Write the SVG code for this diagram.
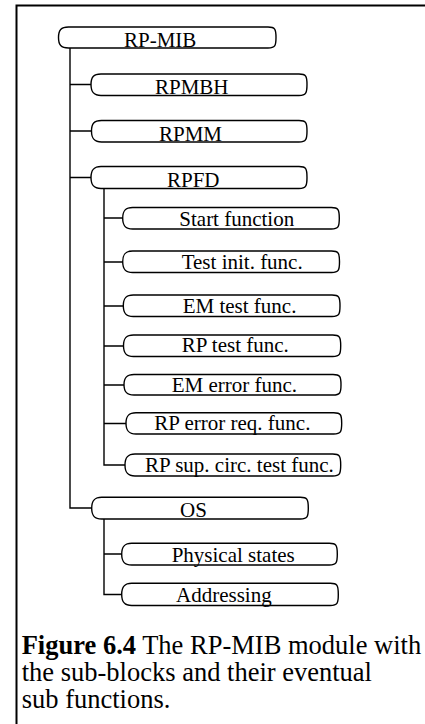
<svg xmlns="http://www.w3.org/2000/svg" width="425" height="724" viewBox="0 0 425 724">
  <style>
    .box { fill: #fff; stroke: #000; stroke-width: 1.4; }
    .lbl { font-size: 21px; fill: #000; }
    .wire { fill: none; stroke: #000; stroke-width: 1.4; }
    .frame { fill: none; stroke: #000; stroke-width: 2; }
    .cap { font-size: 26.5px; fill: #000; }
  </style>

  <!-- page frame (open at right and bottom) -->
  <path class="frame" d="M16.5,724 V5.5 H425"/>

  <!-- connectors -->
  <g id="connectors">
    <path class="wire" d="M70,48 V508 H92"/>
    <path class="wire" d="M70,84.5 H91 M70,131 H91.5 M70,177.5 H91"/>
    <path class="wire" d="M104,188.5 V465 H125"/>
    <path class="wire" d="M104,218 H122.7 M104,262 H122.7 M104,306 H123.3 M104,346 H123.5 M104,385 H124 M104,423.5 H126"/>
    <path class="wire" d="M104,519 V594.5 H121.7 M104,554 H121.7"/>
  </g>

  <!-- nodes: pill boxes with bracket-like ends -->
  <g font-family="Liberation Serif, DejaVu Serif, serif">
  <g id="rp-mib">
    <path class="box" d="M68.5,27 H268 C275,27 276,29 276,37.5 C276,46 275,48 268,48 H68.5 C61,48 58.5,45 58.5,37.5 C58.5,30 61,27 68.5,27 Z"/>
    <text class="lbl" x="124" y="46.5">RP-MIB</text>
  </g>
  <g id="rpmbh">
    <path class="box" d="M101,74 H299 C306,74 307,76 307,84.5 C307,93 306,95.5 299,95.5 H101 C93.5,95.5 91,92 91,84.5 C91,77 93.5,74 101,74 Z"/>
    <text class="lbl" x="155" y="94">RPMBH</text>
  </g>
  <g id="rpmm">
    <path class="box" d="M101.5,120.5 H299 C306,120.5 307,122.5 307,131 C307,139.5 306,142 299,142 H101.5 C94,142 91.5,138.5 91.5,131 C91.5,123.5 94,120.5 101.5,120.5 Z"/>
    <text class="lbl" x="159" y="140.5">RPMM</text>
  </g>
  <g id="rpfd">
    <path class="box" d="M101,166.5 H299 C306,166.5 307,168.5 307,177.5 C307,186 306,188.5 299,188.5 H101 C93.5,188.5 91,185 91,177.5 C91,170 93.5,166.5 101,166.5 Z"/>
    <text class="lbl" x="167" y="186.5">RPFD</text>
  </g>
  <g id="start-function">
    <path class="box" d="M132.7,207.5 H331.3 C338.3,207.5 339.3,209.5 339.3,218.2 C339.3,227 338.3,229 331.3,229 H132.7 C125.2,229 122.7,225.5 122.7,218.2 C122.7,211 125.2,207.5 132.7,207.5 Z"/>
    <text class="lbl" x="179.3" y="225.5">Start function</text>
  </g>
  <g id="test-init">
    <path class="box" d="M132.7,251 H331.5 C338.5,251 339.5,253 339.5,261.7 C339.5,270.5 338.5,272.5 331.5,272.5 H132.7 C125.2,272.5 122.7,269 122.7,261.7 C122.7,254.5 125.2,251 132.7,251 Z"/>
    <text class="lbl" x="181.7" y="268.7">Test init. func.</text>
  </g>
  <g id="em-test">
    <path class="box" d="M133.3,295 H332 C339,295 340,297 340,305.7 C340,314.5 339,316.5 332,316.5 H133.3 C125.8,316.5 123.3,313 123.3,305.7 C123.3,298.5 125.8,295 133.3,295 Z"/>
    <text class="lbl" x="182.7" y="312.7">EM test func.</text>
  </g>
  <g id="rp-test">
    <path class="box" d="M133.5,335 H332.7 C339.7,335 340.7,337 340.7,345.7 C340.7,354.5 339.7,356.5 332.7,356.5 H133.5 C126,356.5 123.5,353 123.5,345.7 C123.5,338.5 126,335 133.5,335 Z"/>
    <text class="lbl" x="181.7" y="352.3">RP test func.</text>
  </g>
  <g id="em-error">
    <path class="box" d="M134,374.5 H333 C340,374.5 341,376.5 341,384.7 C341,393 340,395 333,395 H134 C126.5,395 124,391.5 124,384.7 C124,378 126.5,374.5 134,374.5 Z"/>
    <text class="lbl" x="171.7" y="391.7">EM error func.</text>
  </g>
  <g id="rp-error-req">
    <path class="box" d="M136,412.7 H333.7 C340.7,412.7 341.7,414.7 341.7,423.3 C341.7,432 340.7,434 333.7,434 H136 C128.5,434 126,430.5 126,423.3 C126,416.2 128.5,412.7 136,412.7 Z"/>
    <text class="lbl" x="154.3" y="430">RP error req. func.</text>
  </g>
  <g id="rp-sup-circ">
    <path class="box" d="M135,454 H332.7 C339.7,454 340.7,456 340.7,465 C340.7,474 339.7,476 332.7,476 H135 C127.5,476 125,472.5 125,465 C125,457.5 127.5,454 135,454 Z"/>
    <text class="lbl" x="145" y="471.7">RP sup. circ. test func.</text>
  </g>
  <g id="os">
    <path class="box" d="M101.7,497.3 H300.3 C307.3,497.3 308.3,499.3 308.3,508.2 C308.3,517 307.3,519 300.3,519 H101.7 C94.2,519 91.7,515.5 91.7,508.2 C91.7,500.8 94.2,497.3 101.7,497.3 Z"/>
    <text class="lbl" x="180" y="516.7">OS</text>
  </g>
  <g id="physical-states">
    <path class="box" d="M131.7,543.3 H329.3 C336.3,543.3 337.3,545.3 337.3,554.2 C337.3,563 336.3,565 329.3,565 H131.7 C124.2,565 121.7,561.5 121.7,554.2 C121.7,546.8 124.2,543.3 131.7,543.3 Z"/>
    <text class="lbl" x="171.7" y="561.7">Physical states</text>
  </g>
  <g id="addressing">
    <path class="box" d="M131.7,583.3 H330.3 C337.3,583.3 338.3,585.3 338.3,594.4 C338.3,603.5 337.3,605.5 330.3,605.5 H131.7 C124.2,605.5 121.7,602 121.7,594.4 C121.7,586.8 124.2,583.3 131.7,583.3 Z"/>
    <text class="lbl" x="176" y="601.7">Addressing</text>
  </g>

  <!-- caption -->
  <g id="caption">
    <text class="cap" x="21.7" y="653.5"><tspan font-weight="bold">Figure 6.4</tspan> The RP-MIB module with</text>
    <text class="cap" x="21.7" y="680.7">the sub-blocks and their eventual</text>
    <text class="cap" x="21.7" y="708.3">sub functions.</text>
  </g>
  </g>
</svg>
